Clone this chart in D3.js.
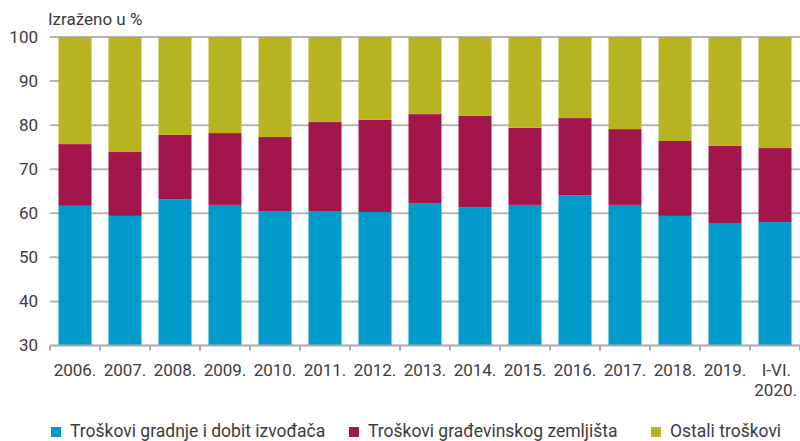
<!DOCTYPE html>
<html>
<head>
<meta charset="utf-8">
<script src="https://cdn.jsdelivr.net/npm/d3@7"></script>
<style>
    body { margin: 0; background: #fff; }
    svg { display: block; font-family: Roboto, "Noto Sans", sans-serif; }
</style>
</head>
<body>
<svg id="chart" width="800" height="441"></svg>
<script>
// Podaci (udjeli u %)
const godine = ["2006.", "2007.", "2008.", "2009.", "2010.", "2011.", "2012.", "2013.",
    "2014.", "2015.", "2016.", "2017.", "2018.", "2019.", "I-VI. 2020."];
const gradnja = [61.7, 59.4, 63.2, 61.9, 60.5, 60.5, 60.3, 62.3, 61.4, 61.9, 64.1, 61.9, 59.4, 57.8, 58.0];
const zemljiste = [14.0, 14.5, 14.6, 16.3, 16.8, 20.2, 20.9, 20.2, 20.7, 17.5, 17.5, 17.2, 17.0, 17.5, 16.8];
const ostali = [24.3, 26.1, 22.2, 21.8, 22.7, 19.3, 18.8, 17.5, 17.9, 20.6, 18.4, 20.9, 23.6, 24.7, 25.2];
const yTicks = [30, 40, 50, 60, 70, 80, 90, 100];

const serije = ["gradnja", "zemljiste", "ostali"];
const nazivi = ["Troškovi gradnje i dobit izvođača", "Troškovi građevinskog zemljišta", "Ostali troškovi"];
const boje = ["#009bca", "#a3164b", "#b8b321"];

const tablica = godine.map((g, i) => ({
    godina: g,
    gradnja: gradnja[i],
    zemljiste: zemljiste[i],
    ostali: ostali[i]
}));

const margin = { top: 37, right: 0, bottom: 95.5, left: 50 },
    width = 800 - margin.left - margin.right,
    height = 441 - margin.top - margin.bottom;

const svg = d3.select("#chart");
const g = svg.append("g")
    .attr("transform", `translate(${margin.left},${margin.top})`);

const x = d3.scaleBand()
    .domain(godine)
    .range([0, width])
    .paddingInner(0.34)
    .paddingOuter(0.17);

const y = d3.scaleLinear()
    .domain([30, 100])
    .range([height, 0]);

// mreža
g.selectAll(".grid")
    .data(yTicks.slice(1))
    .enter()
    .append("line")
    .attr("x1", 0)
    .attr("x2", width)
    .attr("y1", d => y(d))
    .attr("y2", d => y(d))
    .attr("stroke", "#b5b5b5")
    .attr("stroke-width", 2);

// stupci
const stack = d3.stack().keys(serije)(tablica);
const boja = d3.scaleOrdinal().domain(serije).range(boje);

g.selectAll(".serija")
    .data(stack)
    .enter()
    .append("g")
    .attr("fill", d => boja(d.key))
    .selectAll("rect")
    .data(d => d)
    .enter()
    .append("rect")
    .attr("x", d => x(d.data.godina))
    .attr("width", x.bandwidth())
    .attr("y", d => y(Math.min(d[1], 100)))
    .attr("height", d => y(Math.max(d[0], 30)) - y(Math.min(d[1], 100)));

// os y
g.append("g")
    .call(d3.axisLeft(y).tickValues(yTicks).tickSize(0).tickPadding(12))
    .call(a => a.select(".domain").remove())
    .selectAll("text")
    .attr("font-size", 17)
    .attr("font-family", "Roboto, sans-serif")
    .attr("fill", "#3c3c3c");

// os x
const korak = x.step();
const granice = godine.map(d => x(d) - x.paddingInner() * korak / 2).concat([width]);

g.append("line")
    .attr("x1", 0).attr("x2", width)
    .attr("y1", height).attr("y2", height)
    .attr("stroke", "#aaa")
    .attr("stroke-width", 2);

g.selectAll(".xtick")
    .data(granice)
    .enter()
    .append("line")
    .attr("x1", d => d).attr("x2", d => d)
    .attr("y1", height).attr("y2", height + 5)
    .attr("stroke", "#aaa")
    .attr("stroke-width", 2);

// oznake godina (zadnja u dva reda)
const xLab = g.append("g")
    .attr("transform", `translate(0,${height})`);

godine.forEach(d => {
    const dijelovi = d.split(" ");
    const sredina = x(d) + x.bandwidth() / 2;
    dijelovi.forEach((p, j) => {
        xLab.append("text")
            .attr("x", dijelovi.length > 1 ? sredina + 16 + j * 6 : sredina)
            .attr("y", 30 + j * 20)
            .attr("font-size", 17)
            .attr("fill", "#3c3c3c")
            .attr("text-anchor", dijelovi.length > 1 ? "end" : "middle")
            .text(p);
    });
});

// naslov
svg.append("text")
    .attr("x", 48)
    .attr("y", 25)
    .attr("font-size", 17)
    .attr("fill", "#3c3c3c")
    .text("Izraženo u %");

// legenda
const legendaX = [51, 349, 651];
const leg = svg.selectAll(".leg")
    .data(nazivi)
    .enter()
    .append("g")
    .attr("transform", (d, i) => `translate(${legendaX[i]},427)`);

leg.append("rect")
    .attr("width", 10)
    .attr("height", 10)
    .attr("fill", (d, i) => boje[i]);

leg.append("text")
    .attr("x", 19)
    .attr("y", 10)
    .attr("font-size", 17.5)
    .attr("fill", "#3c3c3c")
    .text(d => d);
</script>
</body>
</html>
